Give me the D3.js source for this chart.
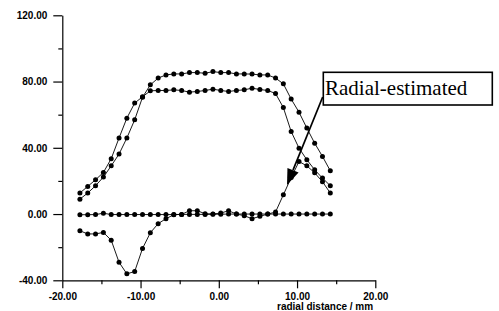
<!DOCTYPE html>
<meta charset="utf-8">
<script src="https://cdn.jsdelivr.net/npm/d3@7"></script>
<style>
  body { margin: 0; background: #fff; }
  .tick text { font-family: "Liberation Sans", Arial, sans-serif; font-weight: bold; font-size: 10px; }
</style>
<div id="vis"></div>
<script>
// radial positions (mm) shared by all four profiles
const radial = [-17.75, -16.75, -15.75, -14.75, -13.75, -12.75, -11.75, -10.75, -9.75, -8.75,
  -7.75, -6.75, -5.75, -4.75, -3.75, -2.75, -1.75, -0.75, 0.25, 1.25,
  2.25, 3.25, 4.25, 5.25, 6.25, 7.25, 8.25, 9.25, 10.25, 11.25,
  12.25, 13.25, 14.25];

// upper plateau profile
const profileA = [9.0, 12.7, 17.1, 22.3, 29.1, 36.2, 45.9, 56.9, 70.5, 78.0,
  82.1, 84.0, 84.6, 84.6, 85.4, 85.4, 85.0, 86.0, 85.4, 85.4,
  84.6, 84.6, 84.5, 84.0, 84.0, 82.1, 78.6, 69.4, 61.5, 51.9,
  42.8, 34.8, 26.1];

// lower plateau profile
const profileB = [12.7, 16.7, 20.7, 25.1, 33.4, 45.9, 57.9, 67.0, 70.8, 74.4,
  74.6, 74.6, 75.0, 74.6, 73.6, 74.0, 74.6, 75.4, 74.6, 74.0,
  74.6, 75.0, 76.0, 75.2, 74.6, 72.8, 64.3, 49.8, 39.8, 32.8,
  26.7, 21.7, 17.1];

// near-zero profile
const profileC = [-0.4, -0.4, -0.3, 0.5, -0.3, -0.3, -0.3, -0.3, -0.3, -0.3,
  -0.3, -0.3, -0.3, -0.2, -0.2, -0.2, -0.2, -0.1, -0.1, 0.0,
  0.0, 0.0, 0.0, 0.0, 0.0, 0.0, 0.0, 0.0, 0.0, 0.0,
  0.0, 0.0, 0.0];

// radial-estimated profile
const profileD = [-10.1, -12.0, -12.0, -11.1, -15.8, -29.1, -36.1, -34.7, -20.8, -11.3,
  -5.8, -2.8, -0.4, -0.2, 2.0, 2.0, 0.2, 0.0, 0.6, 2.0,
  0.0, -1.0, -2.8, -1.4, 0.0, 1.2, 11.6, 22.0, 31.7, 29.1,
  24.9, 19.5, 12.7];

const yMajor = [-40, 0, 40, 80, 120];
const yMinor = [-20, 20, 60, 100];
const xMajor = [-20, -10, 0, 10, 20];
const xMinor = [-15, -5, 5, 15];

const W = 499, H = 311;
const svg = d3.select("#vis").append("svg").attr("width", W).attr("height", H);
svg.append("rect").attr("width", W).attr("height", H).attr("fill", "#fff");

const x = d3.scaleLinear().domain([-20, 20]).range([62.3, 375.3]);
const y = d3.scaleLinear().domain([-40, 120]).range([280.3, 15.3]);

const fmt = d => d.toFixed(2);

// y axis
svg.append("g").attr("transform", "translate(62.3,0)")
  .call(d3.axisLeft(y).tickValues(yMajor).tickFormat(fmt).tickSize(9).tickSizeOuter(0).tickPadding(6));
svg.append("g").attr("transform", "translate(62.3,0)")
  .call(d3.axisLeft(y).tickValues(yMinor).tickFormat("").tickSize(4).tickSizeOuter(0))
  .select(".domain").remove();

// x axis
svg.append("g").attr("transform", "translate(0,280.3)")
  .call(d3.axisBottom(x).tickValues(xMajor).tickFormat(fmt).tickSize(8).tickSizeOuter(0).tickPadding(4.5));
svg.append("g").attr("transform", "translate(0,280.3)")
  .call(d3.axisBottom(x).tickValues(xMinor).tickFormat("").tickSize(4).tickSizeOuter(0))
  .select(".domain").remove();

svg.selectAll(".domain, .tick line").attr("stroke", "#000").attr("stroke-width", 1.2);
svg.selectAll(".tick text").attr("fill", "#000");

svg.append("text")
  .attr("x", 277).attr("y", 309.5)
  .attr("font-family", "Liberation Sans, Arial, sans-serif")
  .attr("font-weight", "bold").attr("font-size", 10)
  .text("radial distance / mm");

// profiles
const line = d3.line().x(d => x(d[0])).y(d => y(d[1]));
[profileA, profileB, profileC, profileD].forEach(vals => {
  const pts = radial.map((r, i) => [r, vals[i]]);
  svg.append("path").datum(pts)
    .attr("d", line).attr("fill", "none")
    .attr("stroke", "#000").attr("stroke-width", 0.9);
  svg.append("g").selectAll("circle").data(pts).enter()
    .append("circle")
    .attr("cx", d => x(d[0])).attr("cy", d => y(d[1]))
    .attr("r", 2.5).attr("fill", "#000");
});

// annotation box and arrow
svg.append("rect")
  .attr("x", 323.3).attr("y", 72.3).attr("width", 169).attr("height", 32.7)
  .attr("fill", "#fff").attr("stroke", "#000").attr("stroke-width", 1.6);
svg.append("text")
  .attr("x", 325).attr("y", 94.5)
  .attr("font-family", "Liberation Serif, Times New Roman, serif")
  .attr("font-size", 21)
  .text("Radial-estimated");

const ax0 = 322.7, ay0 = 97, ax1 = 287, ay1 = 185;
const ang = Math.atan2(ay1 - ay0, ax1 - ax0);
const hl = 16, hw = 6;
const bx = ax1 - hl * Math.cos(ang), by = ay1 - hl * Math.sin(ang);
svg.append("line")
  .attr("x1", ax0).attr("y1", ay0).attr("x2", bx).attr("y2", by)
  .attr("stroke", "#000").attr("stroke-width", 1.7);
svg.append("path")
  .attr("d", `M${ax1},${ay1}L${bx + hw * Math.sin(ang)},${by - hw * Math.cos(ang)}L${bx - hw * Math.sin(ang)},${by + hw * Math.cos(ang)}Z`)
  .attr("fill", "#000");
</script>
